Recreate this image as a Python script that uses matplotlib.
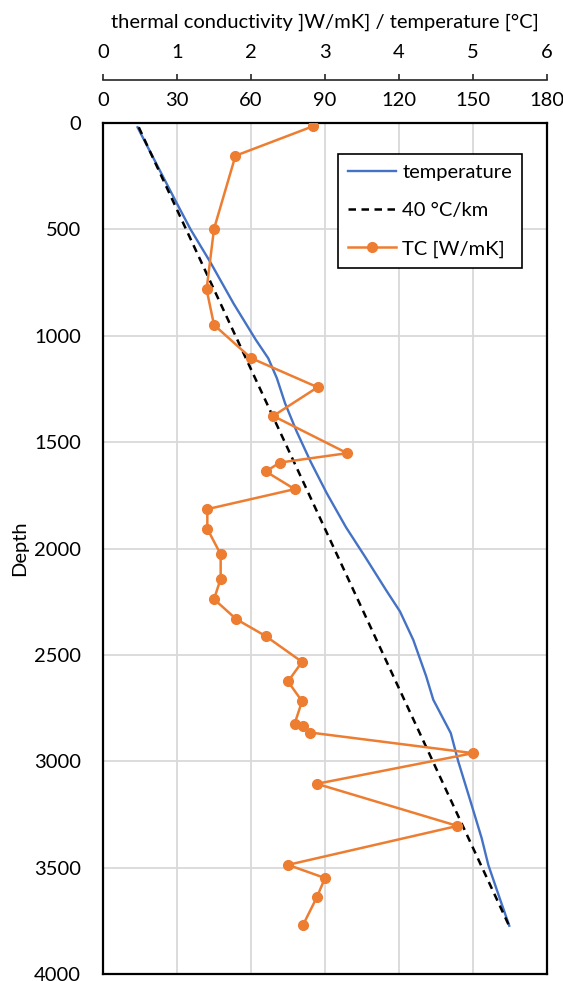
import matplotlib
matplotlib.use("Agg")
import matplotlib.pyplot as plt

plt.rcParams['font.family'] = ['Lato', 'DejaVu Sans']

# thermal conductivity samples (depth m, W/mK)
tc_depth = [15, 154, 498, 782, 949, 1105, 1242, 1377, 1552, 1596, 1638, 1721,
            1815, 1908, 2027, 2143, 2238, 2332, 2412, 2533, 2625, 2718, 2823,
            2834, 2865, 2962, 3106, 3304, 3487, 3549, 3639, 3772]
tc_value = [2.84, 1.79, 1.50, 1.40, 1.50, 2.00, 2.90, 2.30, 3.30, 2.39, 2.20, 2.59,
            1.41, 1.41, 1.59, 1.59, 1.50, 1.80, 2.20, 2.69, 2.50, 2.69, 2.59,
            2.70, 2.80, 5.00, 2.89, 4.79, 2.50, 3.00, 2.89, 2.70]

# measured temperature log
temp_depth = [20, 200, 377, 500, 652, 850, 1020, 1106, 1200, 1317, 1450, 1595, 1740,
              1900, 2038, 2200, 2296, 2430, 2600, 2711, 2868, 3000, 3181, 3361,
              3487, 3650, 3773]
temp_value = [14, 22, 29.9, 35.5, 43.4, 53, 62, 67, 70.5, 73.8, 78.5, 84.3, 90.7,
              98.5, 106.2, 115, 120.4, 125.8, 131, 133.9, 141, 144, 148.8, 153.5,
              156.2, 161, 164.7]

# 40 °C/km reference gradient
grad_depth = [20, 3770]
grad_value = [14.5, 164.5]

temp_ticks = [0, 30, 60, 90, 120, 150, 180]
tc_ticks = [0, 1, 2, 3, 4, 5, 6]
depth_ticks = list(range(0, 4001, 500))

fs = 14.5
fig = plt.figure(figsize=(5.63, 9.81), dpi=100)
ax = fig.add_axes([103/563, 1 - 974/981, 444/563, 851/981])

ax.plot(temp_value, temp_depth, color='#4472C4', lw=1.7, label='temperature', zorder=3)
ax.plot(grad_value, grad_depth, color='black', lw=1.8, ls=(0, (3, 2.2)),
        label='40 °C/km', zorder=3)

ax.set_xlim(0, 180)
ax.set_ylim(4000, 0)
ax.set_yticks(depth_ticks)
ax.tick_params(axis='y', length=0, pad=16, labelsize=fs)
ax.grid(True, color='#d9d9d9', lw=1.3)
ax.set_axisbelow(True)
for s in ax.spines.values():
    s.set_linewidth(1.6)
    s.set_color('black')
ax.set_ylabel('Depth', fontsize=fs, labelpad=4)

ax2 = ax.twiny()
ax2.plot(tc_value, tc_depth, color='#ED7D31', lw=1.8, marker='o', ms=7,
         label='TC [W/mK]', zorder=4)
ax2.set_xlim(0, 6)
ax2.set_xticks(tc_ticks)
ax2.spines['top'].set_position(('outward', 31))
ax2.spines['top'].set_color('#262626')
ax2.spines['top'].set_linewidth(1.2)
for side in ['left', 'right', 'bottom']:
    ax2.spines[side].set_visible(False)
ax2.tick_params(axis='x', direction='out', length=4, width=1.2, color='#262626',
                pad=10, labelsize=fs)

# temperature labels sit on top of the plot frame, under the TC axis
ax.set_xticks(temp_ticks)
ax.xaxis.set_ticks_position('top')
ax.xaxis.set_label_position('top')
ax.tick_params(axis='x', top=True, bottom=False, labeltop=True, labelbottom=False,
               length=0, pad=10, labelsize=fs)

h1, l1 = ax.get_legend_handles_labels()
h2, l2 = ax2.get_legend_handles_labels()
leg = ax2.legend(h1 + h2, l1 + l2, loc='upper left', bbox_to_anchor=(0.529, 0.964),
                 borderaxespad=0, fancybox=False, edgecolor='black', framealpha=1,
                 fontsize=fs, handlelength=2.4, handletextpad=0.3,
                 labelspacing=1.05, borderpad=0.5)
leg.get_frame().set_linewidth(1.2)

fig.text(325/563, 1 - 22/981, 'thermal conductivity ]W/mK] / temperature [°C]',
         ha='center', va='center', fontsize=fs)

fig.savefig('out.png', dpi=100)
